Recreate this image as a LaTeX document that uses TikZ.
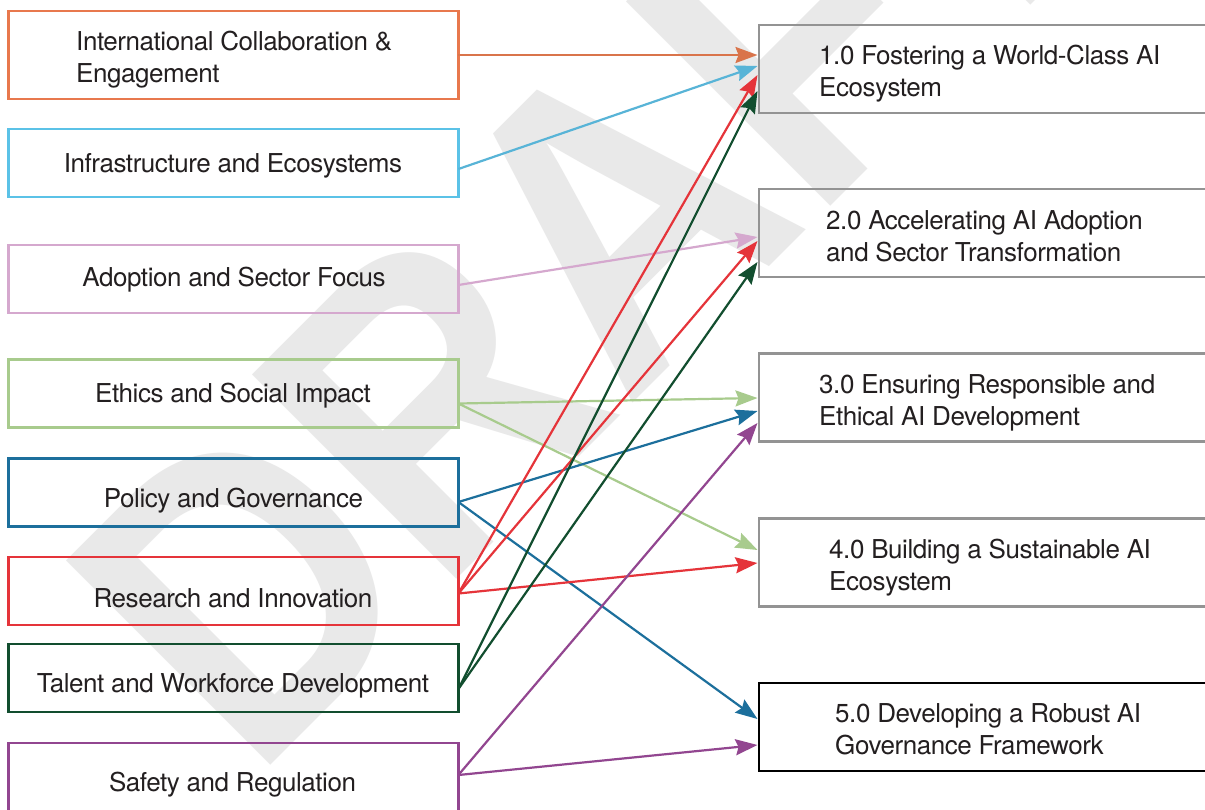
\documentclass[tikz,border=0pt]{standalone}
\usepackage{fontspec}
\setmainfont{TeX Gyre Heros}
\newfontfamily\labfont[LetterSpace=-1.7]{TeX Gyre Heros}
\newfontfamily\wmfont{Liberation Sans}
\usetikzlibrary{arrows.meta}
\definecolor{txt}{HTML}{231F20}
\definecolor{corange}{HTML}{E8784D}
\definecolor{aorange}{HTML}{D9744B}
\definecolor{ccyan}{HTML}{5BC2E7}
\definecolor{acyan}{HTML}{58B4D7}
\definecolor{cpink}{HTML}{D5A8CE}
\definecolor{clgreen}{HTML}{A8CB8D}
\definecolor{cblue}{HTML}{1C6F9C}
\definecolor{cred}{HTML}{E5343A}
\definecolor{cdgreen}{HTML}{124E2F}
\definecolor{cpurple}{HTML}{924690}
\definecolor{cgray}{HTML}{939393}
\definecolor{wm}{HTML}{E9E9E9}
\tikzset{
  lbox/.style={draw, line width=2.2pt, minimum width=450pt, inner sep=0pt, outer sep=0pt},
  rbox/.style={draw=cgray, line width=2.4pt, minimum width=450pt, minimum height=88pt, inner sep=0pt, outer sep=1.5pt},
  lab/.style={font=\labfont\fontsize{26}{32}\selectfont, text=txt, inner sep=0pt, align=left},
  conn/.style={line width=2.2pt, -{Stealth[length=22pt,width=16pt,inset=3pt]}},
}
\begin{document}
\begin{tikzpicture}[x=1pt,y=-1pt]
\path[use as bounding box] (0,0) rectangle (1205,809);
\clip (0,0) rectangle (1205,809);
\fill[white] (0,0) rectangle (1205,809);
% watermark
\node[rotate=45, text=wm, inner sep=0pt, font=\wmfont\bfseries\fontsize{420}{420}\selectfont] (wmark) at (589,243) {\scalebox{0.87}[1]{DRAFT}};
% left boxes
\node[lbox, draw=corange, minimum height=88pt] (intl) at (233.4,55) {};
\node[lbox, draw=ccyan, minimum height=68pt] (infra) at (233.4,163) {};
\node[lbox, draw=cpink, minimum height=68pt] (adopt) at (233.4,279) {};
\node[lbox, draw=clgreen, minimum height=68pt] (ethics) at (233.4,393.5) {};
\node[lbox, draw=cblue, minimum height=68pt] (policy) at (233.4,492.5) {};
\node[lbox, draw=cred, minimum height=68pt] (research) at (233.4,591) {};
\node[lbox, draw=cdgreen, minimum height=68pt] (talent) at (233.4,678) {};
\node[lbox, draw=cpurple, minimum height=68pt] (safety) at (233.4,777.3) {};
% left texts
\node[lab, anchor=base west] (intlT) at (76,82) {International Collaboration \&\\Engagement};
\node[lab, anchor=base] (infraT) at (233,172.5) {Infrastructure and Ecosystems};
\node[lab, anchor=base] (adoptT) at (234,286) {Adoption and Sector Focus};
\node[lab, anchor=base] (ethicsT) at (233,402) {Ethics and Social Impact};
\node[lab, anchor=base] (policyT) at (233.5,507) {Policy and Governance};
\node[lab, anchor=base] (researchT) at (233,607) {Research and Innovation};
\node[lab, anchor=base] (talentT) at (233,692) {Talent and Workforce Development};
\node[lab, anchor=base] (safetyT) at (232.5,791) {Safety and Regulation};
% right boxes
\node[rbox] (r1) at (984,69) {};
\node[rbox] (r2) at (984,233) {};
\node[rbox] (r3) at (984,397.5) {};
\node[rbox] (r4) at (984,562.5) {};
\node[rbox, draw=black] (r5) at (984,727) {};
% right texts
\node[lab, anchor=base west] (r1T) at (819,96) {1.0 Fostering a World-Class AI\\Ecosystem};
\node[lab, anchor=base west] (r2T) at (826,261) {2.0 Accelerating AI Adoption\\and Sector Transformation};
\node[lab, anchor=base west] (r3T) at (819,425) {3.0 Ensuring Responsible and\\Ethical AI Development};
\node[lab, anchor=base west] (r4T) at (829,590) {4.0 Building a Sustainable AI\\Ecosystem};
\node[lab, anchor=base west] (r5T) at (835,754) {5.0 Developing a Robust AI\\Governance Framework};
% connectors
\draw[conn, aorange] (intl.east) -- ([yshift=14pt]r1.west);
\draw[conn, acyan] ([yshift=-6pt]infra.east) -- ([yshift=3pt]r1.west);
\draw[conn, cpink] ([yshift=-6pt]adopt.east) -- ([yshift=-4pt]r2.west);
\draw[conn, clgreen] ([yshift=-10pt]ethics.east) -- ([yshift=-0.5pt]r3.west);
\draw[conn, clgreen] ([yshift=-10pt]ethics.east) -- ([yshift=12.5pt]r4.west);
\draw[conn, cblue] ([yshift=-9.5pt]policy.east) -- ([yshift=-13.5pt]r3.west);
\draw[conn, cblue] ([yshift=-9.5pt]policy.east) -- ([yshift=8pt]r5.west);
\draw[conn, cred] ([yshift=-2.5pt]research.east) -- ([yshift=-6pt]r1.west);
\draw[conn, cred] ([yshift=-2.5pt]research.east) -- ([yshift=-8pt]r2.west);
\draw[conn, cred] ([yshift=-2.5pt]research.east) -- ([yshift=-0.5pt]r4.west);
\draw[conn, cdgreen] ([yshift=-11pt]talent.east) -- ([yshift=-22pt]r1.west);
\draw[conn, cdgreen] ([yshift=-11pt]talent.east) -- ([yshift=-29pt]r2.west);
\draw[conn, cpurple] ([yshift=2.3pt]safety.east) -- ([yshift=-25.5pt]r3.west);
\draw[conn, cpurple] ([yshift=2.3pt]safety.east) -- ([yshift=-18pt]r5.west);
\end{tikzpicture}
\end{document}
